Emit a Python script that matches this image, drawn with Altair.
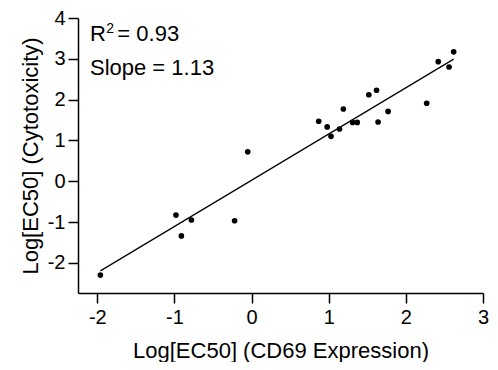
import altair as alt
import pandas as pd

# Data
cd69 = [-1.96, -0.98, -0.91, -0.78, -0.22, -0.05, 0.87, 0.98, 1.03, 1.14, 1.19,
        1.31, 1.37, 1.52, 1.62, 1.64, 1.77, 2.27, 2.42, 2.56, 2.62]
cyto = [-2.30, -0.83, -1.34, -0.95, -0.97, 0.72, 1.47, 1.33, 1.10, 1.28, 1.77,
        1.44, 1.44, 2.12, 2.23, 1.45, 1.71, 1.91, 2.93, 2.80, 3.17]

x_ticks = [-2, -1, 0, 1, 2, 3]
y_ticks = [-2, -1, 0, 1, 2, 3, 4]

ann_x = [-2.095, -1.885, -1.74, -2.095]
ann_y = [3.43, 3.63, 3.43, 2.595]
ann_text = ["R", "2", "= 0.93", "Slope = 1.13"]
ann_size = [22, 14, 22, 22]

df = pd.DataFrame({"x": cd69, "y": cyto})
ann = pd.DataFrame({"x": ann_x, "y": ann_y, "t": ann_text, "s": ann_size})

FONT = "Liberation Sans"

xs = alt.Scale(domain=[-2.25, 3], nice=False, zero=False)
ys = alt.Scale(domain=[-2.74, 4], nice=False, zero=False)

common = dict(grid=False, tickSize=10, labelFontSize=20, titleFontSize=22,
              titleFontWeight="normal", titleBaseline="alphabetic",
              labelFont=FONT, titleFont=FONT, domainColor="black", tickColor="black",
              labelColor="black", titleColor="black", domainWidth=1.5, tickWidth=1.5,
              labelFlush=False, labelExpr="'' + datum.value")

xaxis = alt.Axis(values=x_ticks, title="Log[EC50] (CD69 Expression)",
                 labelPadding=4, titleY=64, **common)
yaxis = alt.Axis(values=y_ticks, title="Log[EC50] (Cytotoxicity)",
                 labelPadding=3, titleX=-41, titleAngle=270, **common)

points = alt.Chart(df).mark_circle(color="black", opacity=1, size=32).encode(
    x=alt.X("x:Q", scale=xs, axis=xaxis),
    y=alt.Y("y:Q", scale=ys, axis=yaxis),
)

fit = alt.Chart(df).transform_regression("x", "y").mark_line(
    color="black", strokeWidth=1.2
).encode(x=alt.X("x:Q", scale=xs), y=alt.Y("y:Q", scale=ys))

text = alt.Chart(ann).mark_text(align="left", baseline="alphabetic", font=FONT,
                                color="black").encode(
    x=alt.X("x:Q", scale=xs),
    y=alt.Y("y:Q", scale=ys),
    text="t:N",
    size=alt.Size("s:Q", scale=None, legend=None),
)

chart = (points + fit + text).properties(
    width=405, height=275,
    autosize=alt.AutoSizeParams(type="none"),
    padding={"left": 70, "top": 10, "right": 7, "bottom": 69},
).configure_view(stroke=None)

chart.save("out.html", embed_options={"renderer": "svg", "actions": False})
